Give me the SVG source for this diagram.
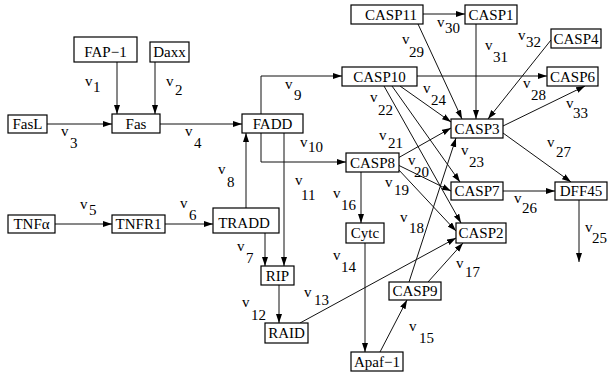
<svg xmlns="http://www.w3.org/2000/svg" width="608" height="374" viewBox="0 0 608 374">
<style>
.n rect{fill:#fff;stroke:#000;stroke-width:1.2}
.n text{font-size:15px;fill:#000;text-anchor:middle}
.e line,.e polyline{stroke:#111;stroke-width:1;fill:none;marker-end:url(#ah)}
.l text{font-size:15px;fill:#000}
</style>
<defs>
<marker id="ah" markerUnits="userSpaceOnUse" markerWidth="9" markerHeight="7" refX="9" refY="3" orient="auto"><path d="M0,0 L9,3 L0,6 z" fill="#000"/></marker>
</defs>
<rect width="608" height="374" fill="#fff"/>
<g class="e" id="connectors">
<line x1="117" y1="62" x2="117" y2="114"/>
<line x1="155" y1="62" x2="155" y2="114"/>
<line x1="47" y1="124" x2="112" y2="124"/>
<line x1="160" y1="124" x2="242" y2="124"/>
<line x1="55" y1="224" x2="112" y2="224"/>
<line x1="165" y1="224" x2="213" y2="224"/>
<line x1="265" y1="233" x2="265" y2="266"/>
<line x1="246" y1="208" x2="246" y2="133"/>
<polyline points="261,114 261,76 342,76"/>
<polyline points="261,133 261,162 346,162"/>
<line x1="284" y1="133" x2="284" y2="266"/>
<line x1="279" y1="285" x2="279" y2="323"/>
<line x1="300" y1="323" x2="456" y2="238"/>
<line x1="365" y1="243" x2="365" y2="352"/>
<line x1="380" y1="352" x2="407" y2="300"/>
<line x1="361" y1="172" x2="361" y2="223"/>
<line x1="428" y1="282" x2="463" y2="243"/>
<line x1="409" y1="282" x2="456" y2="138"/>
<line x1="398" y1="169" x2="456" y2="231"/>
<line x1="398" y1="165" x2="451" y2="191"/>
<line x1="398" y1="158" x2="451" y2="128"/>
<line x1="384" y1="86" x2="461" y2="223"/>
<line x1="392" y1="86" x2="460" y2="182"/>
<line x1="400" y1="86" x2="451" y2="122"/>
<line x1="579" y1="200" x2="579" y2="262"/>
<line x1="503" y1="191" x2="555" y2="191"/>
<line x1="503" y1="133" x2="571" y2="182"/>
<line x1="417" y1="76" x2="547" y2="76"/>
<line x1="418" y1="24" x2="462" y2="119"/>
<line x1="423" y1="14" x2="465" y2="14"/>
<line x1="476" y1="24" x2="476" y2="119"/>
<line x1="551" y1="40" x2="488" y2="119"/>
<line x1="503" y1="126" x2="585" y2="86"/>
</g>
<g font-family="Liberation Serif, Times New Roman, DejaVu Serif, serif">
<g class="n" id="FAP-1"><rect x="74" y="37" width="63" height="25"/><text x="105.5" y="57">FAP−1</text></g>
<g class="n" id="Daxx"><rect x="150" y="42" width="39" height="20"/><text x="169.5" y="57">Daxx</text></g>
<g class="n" id="FasL"><rect x="8" y="115" width="39" height="18"/><text x="27.5" y="129">FasL</text></g>
<g class="n" id="Fas"><rect x="112" y="114" width="48" height="19"/><text x="136" y="129">Fas</text></g>
<g class="n" id="FADD"><rect x="242" y="114" width="61" height="19"/><text x="272.5" y="129">FADD</text></g>
<g class="n" id="TNFa"><rect x="8" y="215" width="47" height="18"/><text x="31.5" y="229">TNFα</text></g>
<g class="n" id="TNFR1"><rect x="112" y="215" width="53" height="18"/><text x="138.5" y="229">TNFR1</text></g>
<g class="n" id="TRADD"><rect x="213" y="208" width="66" height="25"/><text x="244" y="228">TRADD</text></g>
<g class="n" id="RIP"><rect x="261" y="266" width="33" height="19"/><text x="277.5" y="281">RIP</text></g>
<g class="n" id="RAID"><rect x="265" y="323" width="43" height="20"/><text x="286.5" y="338">RAID</text></g>
<g class="n" id="Cytc"><rect x="346" y="223" width="38" height="20"/><text x="365" y="238">Cytc</text></g>
<g class="n" id="Apaf-1"><rect x="351" y="352" width="52" height="19"/><text x="377" y="367">Apaf−1</text></g>
<g class="n" id="CASP9"><rect x="389" y="282" width="52" height="18"/><text x="415" y="296">CASP9</text></g>
<g class="n" id="CASP2"><rect x="456" y="223" width="50" height="20"/><text x="481" y="238">CASP2</text></g>
<g class="n" id="CASP7"><rect x="451" y="182" width="52" height="18"/><text x="477" y="196">CASP7</text></g>
<g class="n" id="CASP3"><rect x="451" y="119" width="52" height="19"/><text x="477" y="134">CASP3</text></g>
<g class="n" id="CASP8"><rect x="346" y="153" width="53" height="19"/><text x="372.5" y="168">CASP8</text></g>
<g class="n" id="CASP10"><rect x="342" y="67" width="75" height="19"/><text x="379.5" y="82">CASP10</text></g>
<g class="n" id="CASP11"><rect x="351" y="5" width="72" height="19"/><text x="391" y="20">CASP11</text></g>
<g class="n" id="CASP1"><rect x="465" y="5" width="52" height="19"/><text x="491" y="20">CASP1</text></g>
<g class="n" id="CASP4"><rect x="551" y="29" width="50" height="19"/><text x="576" y="44">CASP4</text></g>
<g class="n" id="CASP6"><rect x="547" y="67" width="51" height="19"/><text x="572.5" y="82">CASP6</text></g>
<g class="n" id="DFF45"><rect x="555" y="182" width="52" height="18"/><text x="581" y="196">DFF45</text></g>
<g class="l" id="labels">
<text x="85" y="86">v<tspan x="93" y="92">1</tspan></text>
<text x="166" y="86">v<tspan x="175" y="95">2</tspan></text>
<text x="61" y="136">v<tspan x="70" y="148">3</tspan></text>
<text x="185" y="136">v<tspan x="194" y="148">4</tspan></text>
<text x="80" y="209">v<tspan x="89" y="215">5</tspan></text>
<text x="180" y="208">v<tspan x="189" y="220">6</tspan></text>
<text x="237" y="251">v<tspan x="246" y="263">7</tspan></text>
<text x="218" y="174">v<tspan x="227" y="187">8</tspan></text>
<text x="285" y="89">v<tspan x="294" y="100">9</tspan></text>
<text x="300" y="147">v<tspan x="308" y="152">10</tspan></text>
<text x="295" y="185">v<tspan x="301" y="200">11</tspan></text>
<text x="242" y="307">v<tspan x="251" y="320">12</tspan></text>
<text x="304" y="297">v<tspan x="314" y="305">13</tspan></text>
<text x="333" y="260">v<tspan x="341" y="272">14</tspan></text>
<text x="409" y="331">v<tspan x="419" y="343">15</tspan></text>
<text x="333" y="198">v<tspan x="341" y="210">16</tspan></text>
<text x="456" y="268">v<tspan x="465" y="277">17</tspan></text>
<text x="400" y="222">v<tspan x="409" y="233">18</tspan></text>
<text x="385" y="187">v<tspan x="394" y="195">19</tspan></text>
<text x="408" y="165">v<tspan x="414" y="177">20</tspan></text>
<text x="379" y="140">v<tspan x="388" y="148">21</tspan></text>
<text x="370" y="102">v<tspan x="378" y="115">22</tspan></text>
<text x="461" y="155">v<tspan x="469" y="167">23</tspan></text>
<text x="423" y="93">v<tspan x="431" y="105">24</tspan></text>
<text x="585" y="232">v<tspan x="592" y="243">25</tspan></text>
<text x="514" y="203">v<tspan x="522" y="213">26</tspan></text>
<text x="547" y="147">v<tspan x="556" y="157">27</tspan></text>
<text x="523" y="88">v<tspan x="531" y="100">28</tspan></text>
<text x="402" y="44">v<tspan x="409" y="57">29</tspan></text>
<text x="437" y="27">v<tspan x="445" y="33">30</tspan></text>
<text x="485" y="50">v<tspan x="493" y="62">31</tspan></text>
<text x="518" y="40">v<tspan x="526" y="47">32</tspan></text>
<text x="566" y="108">v<tspan x="573" y="118">33</tspan></text>
</g>
</g>
</svg>
